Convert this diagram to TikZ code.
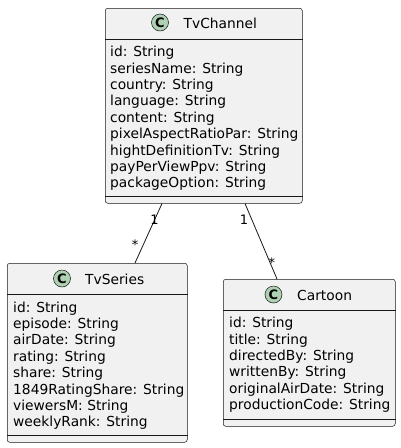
\documentclass[tikz,border=0pt]{standalone}
\usepackage{fontspec}
\setmainfont{DejaVu Sans}
\usetikzlibrary{positioning}
\definecolor{boxfill}{HTML}{F1F1F1}
\definecolor{boxline}{HTML}{181818}
\definecolor{spotfill}{HTML}{ADD1B2}

\begin{document}
\begin{tikzpicture}[x=1pt,y=-1pt,font=\fontsize{13.8}{16.4}\selectfont,
  classbox/.style={draw=boxline,fill=boxfill,line width=0.5pt,rounded corners=2.5pt,anchor=north west,inner sep=0pt},
  spot/.style={circle,draw=boxline,fill=spotfill,line width=0.5pt,minimum size=17pt,inner sep=0pt,font=\fontsize{13}{13}\selectfont\bfseries},
  title/.style={anchor=base west,inner sep=0pt},
  attrs/.style={anchor=north west,align=left,inner sep=0pt},
  sep/.style={draw=boxline,line width=0.5pt},
  assoc/.style={draw=boxline,line width=0.8pt},
  mult/.style={inner sep=0pt,font=\fontsize{13}{13}\selectfont}]
\useasboundingbox (0,0) rectangle (401,448);
% TvChannel
\node[classbox,minimum width=197pt,minimum height=195pt] (chan) at (105,8) {};
\draw[sep] ([yshift=-31pt]chan.north west) -- ([yshift=-31pt]chan.north east);
\draw[sep] ([yshift=7pt]chan.south west) -- ([yshift=7pt]chan.south east);
\node[spot] (chanspot) at (160,22.5) {C};
\node[title] (chantitle) at (183.5,28.3) {TvChannel};
\node[attrs] (chanattrs) at (110,46) {id: String\\seriesName: String\\country: String\\language: String\\content: String\\pixelAspectRatioPar: String\\hightDefinitionTv: String\\payPerViewPpv: String\\packageOption: String};
% TvSeries
\node[classbox,minimum width=180pt,minimum height=179pt] (series) at (7,263) {};
\draw[sep] ([yshift=-31pt]series.north west) -- ([yshift=-31pt]series.north east);
\draw[sep] ([yshift=7pt]series.south west) -- ([yshift=7pt]series.south east);
\node[spot] (seriesspot) at (62,278.5) {C};
\node[title] (seriestitle) at (85,284.3) {TvSeries};
\node[attrs] (seriesattrs) at (13,301.5) {id: String\\episode: String\\airDate: String\\rating: String\\share: String\\1849RatingShare: String\\viewersM: String\\weeklyRank: String};
% Cartoon
\node[classbox,minimum width=172pt,minimum height=147pt] (cartoon) at (223,279) {};
\draw[sep] ([yshift=-31pt]cartoon.north west) -- ([yshift=-31pt]cartoon.north east);
\draw[sep] ([yshift=7pt]cartoon.south west) -- ([yshift=7pt]cartoon.south east);
\node[spot] (cartoonspot) at (273.5,294.5) {C};
\node[title] (cartoontitle) at (297,300.3) {Cartoon};
\node[attrs] (cartoonattrs) at (229,317) {id: String\\title: String\\directedBy: String\\writtenBy: String\\originalAirDate: String\\productionCode: String};
% associations
\draw[assoc] ([xshift=57pt]chan.south west) -- node[mult,pos=0.28] (m1) {1} node[mult,pos=0.7,xshift=-8pt] (m2) {*} ([xshift=128pt]series.north west);
\draw[assoc] ([xshift=140pt]chan.south west) -- node[mult,pos=0.22,xshift=-8pt] (m3) {1} node[mult,pos=0.78,xshift=2pt] (m4) {*} ([xshift=54pt]cartoon.north west);
\end{tikzpicture}
\end{document}
